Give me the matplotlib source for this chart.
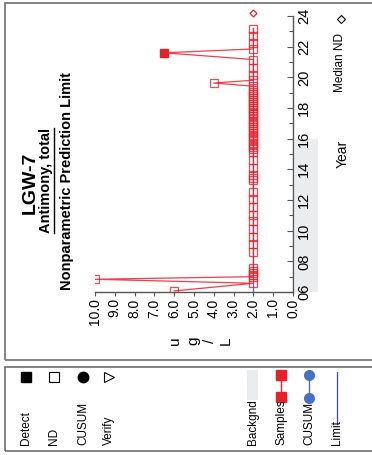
import matplotlib

matplotlib.use("Agg")
import matplotlib.pyplot as plt
from matplotlib.lines import Line2D
from matplotlib.patches import Rectangle
from matplotlib.ticker import FixedLocator, MultipleLocator
from matplotlib.transforms import blended_transform_factory

plt.rcParams["font.family"] = ["Liberation Sans", "DejaVu Sans"]

# sample dates (decimal year) and results, ug/L
sample_year = [
    2006.07, 2006.57, 2006.83, 2007.0, 2007.1, 2007.25, 2007.4, 2007.55,
    2008.6, 2009.1, 2009.6, 2010.1, 2010.6, 2011.05, 2011.55, 2012.05,
    2012.55, 2013.3, 2013.45, 2013.6, 2014.1, 2014.6, 2015.15, 2015.3,
    2015.45, 2015.6, 2015.75, 2015.9, 2016.05, 2016.2, 2016.35, 2016.5,
    2016.6, 2016.75, 2016.9, 2017.0, 2017.15, 2017.3, 2017.45, 2017.6,
    2017.7, 2017.85, 2018.0, 2018.1, 2018.25, 2018.4, 2018.5, 2018.65,
    2018.8, 2018.9, 2019.05, 2019.2, 2019.42, 2019.63, 2019.81, 2020.18,
    2020.64, 2021.16, 2021.6, 2021.85, 2022.25, 2022.69, 2023.17,
]
sample_value = [
    6.0, 2.0, 10.0, 2.0, 2.0, 2.0, 2.0, 2.0,
    2.0, 2.0, 2.0, 2.0, 2.0, 2.0, 2.0, 2.0,
    2.0, 2.0, 2.0, 2.0, 2.0, 2.0, 2.0, 2.0,
    2.0, 2.0, 2.0, 2.0, 2.0, 2.0, 2.0, 2.0,
    2.0, 2.0, 2.0, 2.0, 2.0, 2.0, 2.0, 2.0,
    2.0, 2.0, 2.0, 2.0, 2.0, 2.0, 2.0, 2.0,
    2.0, 2.0, 2.0, 2.0, 2.0, 4.0, 2.0, 2.0,
    2.0, 2.0, 6.5, 2.0, 2.0, 2.0, 2.0,
]
sample_detect = [v == 6.5 for v in sample_value]

limit_value = 2.0
limit_years = [2006.0, 2023.2]
background_years = [2006.0, 2016.0]
median_nd = 2.0
median_nd_year = 2024.22

value_ticks = [0, 1, 2, 3, 4, 5, 6, 7, 8, 9, 10]
year_ticks = [2006, 2008, 2010, 2012, 2014, 2016, 2018, 2020, 2022, 2024]

W, H = 372, 455
RED = "#e8202a"
BLUE = "#4a6fc8"


def fx(px):
    return px / W


def fy(py):
    return 1 - py / H


fig = plt.figure(figsize=(W / 100, H / 100), dpi=100)
ax = fig.add_axes([fx(95), fy(292), fx(293) - fx(95), fy(16) - fy(292)])

# background period shading behind the year labels
blend = blended_transform_factory(ax.transAxes, ax.transData)
ax.add_patch(Rectangle((1.008, background_years[0]), 0.12,
                       background_years[1] - background_years[0],
                       transform=blend, facecolor="#ebecee", edgecolor="none",
                       clip_on=False, zorder=0))

ax.plot([limit_value, limit_value], limit_years, color=BLUE, lw=0.9, zorder=2)
ax.plot(sample_value, sample_year, color=RED, lw=0.9, alpha=0.85, zorder=3)
nd_x = [v for v, d in zip(sample_value, sample_detect) if not d]
nd_y = [y for y, d in zip(sample_year, sample_detect) if not d]
det_x = [v for v, d in zip(sample_value, sample_detect) if d]
det_y = [y for y, d in zip(sample_year, sample_detect) if d]
ax.plot(nd_x, nd_y, ls="none", marker="s", ms=5.5, mfc="none", mec=RED,
        mew=0.9, alpha=0.8, zorder=4)
ax.plot(det_x, det_y, ls="none", marker="s", ms=6.3, mfc=RED, mec=RED, zorder=5)
ax.plot([median_nd], [median_nd_year], ls="none", marker="D", ms=3.5,
        mfc="white", mec=RED, mew=0.9, clip_on=False, zorder=5)

ax.set_xlim(10, 0)
ax.set_ylim(2006, 2024)
for side in ("left", "top"):
    ax.spines[side].set_visible(False)
for side in ("bottom", "right"):
    ax.spines[side].set_color("#555555")
    ax.spines[side].set_linewidth(1.0)

ax.xaxis.set_major_locator(FixedLocator(value_ticks))
ax.set_xticklabels([f"{v:.1f}" for v in value_ticks])
ax.tick_params(axis="x", labelrotation=90, labelsize=10, length=3, width=0.8,
               pad=1.5, color="#555555")

ax.yaxis.tick_right()
ax.yaxis.set_major_locator(FixedLocator(year_ticks))
ax.yaxis.set_minor_locator(MultipleLocator(1))
ax.set_yticklabels([f"{y % 100:02d}" for y in year_ticks])
ax.tick_params(axis="y", which="both", direction="in", color="#555555",
               width=0.8)
ax.tick_params(axis="y", which="major", length=4, labelsize=10.5,
               labelrotation=90, pad=3)
ax.tick_params(axis="y", which="minor", length=3)
for label in ax.get_yticklabels():
    label.set_verticalalignment("center")

# titles, rotated with the page
fig.text(fx(30), fy(183), "LGW-7", rotation=90, fontsize=14,
         fontweight="bold", ha="center", va="center")
sub = fig.text(fx(46), fy(181), "Antimony, total", rotation=90, fontsize=10.5,
               fontweight="bold", ha="center", va="center")
fig.text(fx(67), fy(181), "Nonparametric Prediction Limit", rotation=90,
         fontsize=10.5, fontweight="bold", ha="center", va="center")

fig.canvas.draw()
bb = sub.get_window_extent().transformed(fig.transFigure.inverted())
fig.add_artist(Line2D([bb.x1 + 0.003, bb.x1 + 0.003], [bb.y0, bb.y1],
                      transform=fig.transFigure, color="black", lw=1.0))

for letter, px in zip(["u", "g", "/", "L"], [175, 193, 210, 226]):
    fig.text(fx(px), fy(341), letter, rotation=90, fontsize=11,
             ha="center", va="center")

fig.text(fx(343), fy(154), "Year", rotation=90, fontsize=10,
         ha="center", va="center")
fig.text(fx(340), fy(63), "Median ND", rotation=90, fontsize=8.5,
         ha="center", va="center")
fig.add_artist(Line2D([fx(341)], [fy(19)], transform=fig.transFigure,
                      ls="none", marker="D", ms=3.8, mfc="white", mec="black",
                      mew=0.8))

# frames
fig.add_artist(Rectangle((fx(5), fy(360)), 1.0, fy(3) - fy(360),
                         transform=fig.transFigure, facecolor="none",
                         edgecolor="#7a7a7a", lw=1.3))
fig.add_artist(Rectangle((fx(5), fy(451)), 1.0, fy(367) - fy(451),
                         transform=fig.transFigure, facecolor="none",
                         edgecolor="#7a7a7a", lw=1.3))

# legend panel
legend_text_y = 445
symbols = [
    ("Detect", 26, dict(marker="s", ms=6.5, mfc="black", mec="black")),
    ("ND", 54, dict(marker="s", ms=6.5, mfc="white", mec="black", mew=0.8)),
    ("CUSUM", 83, dict(marker="o", ms=7.5, mfc="black", mec="black")),
    ("Verify", 109, dict(marker=">", ms=7, mfc="white", mec="black", mew=0.8)),
]
for name, px, style in symbols:
    fig.add_artist(Line2D([fx(px)], [fy(377)], transform=fig.transFigure,
                          ls="none", **style))
    fig.text(fx(px), fy(legend_text_y), name, rotation=90, fontsize=8.5,
             ha="center", va="bottom")

fig.add_artist(Rectangle((fx(247), fy(400)), fx(258) - fx(247), fy(370) - fy(400),
                         transform=fig.transFigure, facecolor="#ebecee",
                         edgecolor="none"))
fig.text(fx(253), fy(legend_text_y), "Backgnd", rotation=90, fontsize=8.5,
         ha="center", va="bottom")

fig.add_artist(Line2D([fx(281), fx(281)], [fy(375), fy(397)],
                      transform=fig.transFigure, color=RED, lw=1.0,
                      marker="s", ms=6.5, mfc=RED, mec=RED))
fig.text(fx(281), fy(legend_text_y), "Samples", rotation=90, fontsize=8.5,
         ha="center", va="bottom")

fig.add_artist(Line2D([fx(309), fx(309)], [fy(375), fy(398)],
                      transform=fig.transFigure, color=BLUE, lw=1.0,
                      marker="o", ms=7, mfc=BLUE, mec=BLUE))
fig.text(fx(309), fy(legend_text_y), "CUSUM", rotation=90, fontsize=8.5,
         ha="center", va="bottom")

fig.add_artist(Line2D([fx(337), fx(337)], [fy(372), fy(424)],
                      transform=fig.transFigure, color="#3b4a9c", lw=0.9))
fig.text(fx(337), fy(legend_text_y), "Limit", rotation=90, fontsize=8.5,
         ha="center", va="bottom")

fig.savefig("out.png", dpi=100)
